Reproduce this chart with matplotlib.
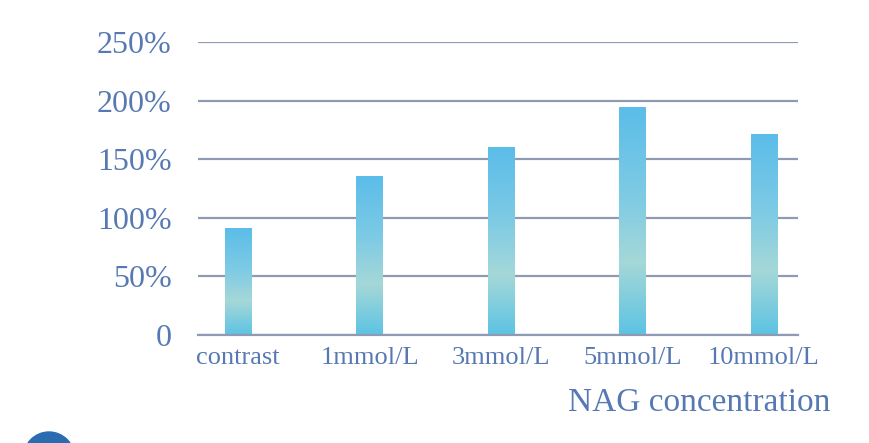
import numpy as np
import matplotlib
matplotlib.use("Agg")
import matplotlib.pyplot as plt
from matplotlib.colors import LinearSegmentedColormap
from matplotlib.ticker import FuncFormatter, MultipleLocator
from matplotlib.patches import Circle

# data (relative activity, %)
categories = ["contrast", "1mmol/L", "3mmol/L", "5mmol/L", "10mmol/L"]
values = [91, 135, 160, 194, 171]

txt_color = "#5679b3"
grid_color = "#8e9bb3"

plt.rcParams["font.family"] = ["Liberation Serif", "DejaVu Serif"]

fig = plt.figure(figsize=(8.7, 4.43), dpi=100)
ax = fig.add_axes([0.2276, 0.2438, 0.6897, 0.6614])

# bar fill: blue at top, pale teal low down, blue again at the base
cmap = LinearSegmentedColormap.from_list(
    "barfill", [(0, "#5bbde9"), (0.4, "#7fcbe4"), (0.68, "#a5d8d8"), (1, "#5cc3e3")])
ramp = np.linspace(0, 1, 256).reshape(-1, 1)

x = np.arange(len(categories))
bars = ax.bar(x, values, width=0.205, color="none", zorder=3)
for b in bars:
    x0, w, h = b.get_x(), b.get_width(), b.get_height()
    ax.imshow(ramp, extent=[x0, x0 + w, 0, h], aspect="auto", cmap=cmap,
              origin="upper", zorder=3, interpolation="bilinear")

ax.set_xlim(-0.304, 4.259)
ax.set_ylim(0, 250)
ax.yaxis.set_major_locator(MultipleLocator(50))
ax.yaxis.set_major_formatter(FuncFormatter(lambda v, p: "0" if v == 0 else f"{v:.0f}%"))
ax.set_xticks(x)
ax.set_xticklabels(categories)

ax.grid(axis="y", color=grid_color, linewidth=1.6, zorder=1)
ax.set_axisbelow(True)
for s in ["top", "right", "left"]:
    ax.spines[s].set_visible(False)
ax.spines["bottom"].set_color(grid_color)
ax.spines["bottom"].set_linewidth(1.6)
ax.spines["bottom"].set_zorder(4)

ax.tick_params(axis="y", length=0, pad=19, labelsize=23, labelcolor=txt_color)
ax.tick_params(axis="x", length=0, pad=9, labelsize=19, labelcolor=txt_color)

fig.text(0.955, 0.09, "NAG concentration", ha="right", va="center",
         fontsize=24, color=txt_color)

# piece of the numbered badge cut off at the lower left (inches from bottom-left)
fig.patches.append(Circle((0.49, -0.145), 0.255,
                          transform=fig.dpi_scale_trans, color="#2b6cb0"))

fig.savefig("out.png", dpi=100)
